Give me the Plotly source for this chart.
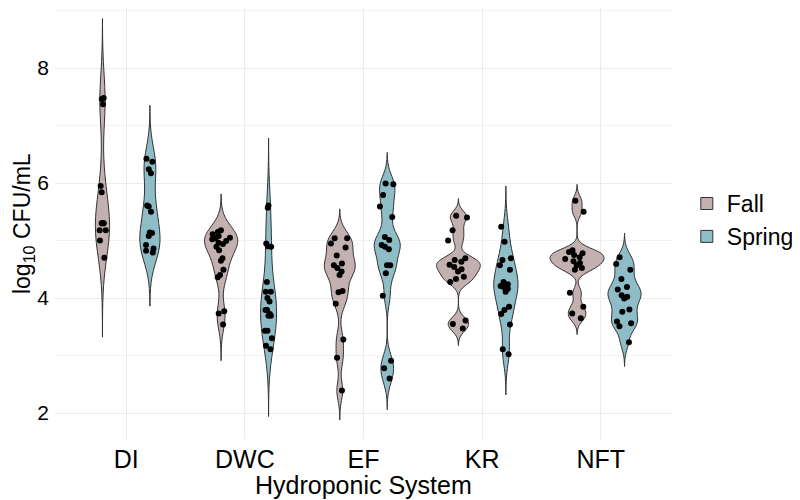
import plotly.graph_objects as go

systems = ["DI", "DWC", "EF", "KR", "NFT"]

# log10 CFU/mL
di_fall = [7.48, 7.46, 7.37, 5.95, 5.84, 5.30, 5.30, 5.30, 5.30, 5.18, 5.18, 5.00, 4.70]
di_spring = [6.42, 6.37, 6.24, 6.17, 5.61, 5.59, 5.50, 5.14, 5.13, 5.08, 4.92, 4.86, 4.82, 4.79]
dwc_fall = [5.18, 5.15, 5.11, 5.08, 5.05, 5.04, 5.02, 4.99, 4.96, 4.94, 4.89, 4.83,
            4.69, 4.65, 4.49, 4.40, 4.36, 3.77, 3.73, 3.54]
dwc_spring = [5.61, 5.57, 4.95, 4.90, 4.89, 4.28, 4.11, 4.11, 4.00, 3.94, 3.79, 3.79,
              3.72, 3.69, 3.69, 3.43, 3.43, 3.30, 3.17, 3.11]
ef_fall = [5.04, 5.04, 4.95, 4.88, 4.74, 4.60, 4.57, 4.52, 4.46, 4.40, 4.12, 4.10,
           3.90, 3.28, 2.96, 2.39]
ef_spring = [5.99, 5.98, 5.79, 5.59, 5.41, 5.06, 5.01, 4.92, 4.89, 4.85, 4.57, 4.57,
             4.43, 4.04, 2.91, 2.78, 2.60]
kr_fall = [5.43, 5.40, 5.18, 5.00, 4.69, 4.66, 4.63, 4.58, 4.54, 4.50, 4.46, 4.37,
           4.33, 4.28, 3.61, 3.55, 3.47]
kr_spring = [5.24, 4.98, 4.69, 4.66, 4.57, 4.49, 4.28, 4.24, 4.21, 4.19, 4.16, 4.11,
             3.85, 3.79, 3.72, 3.54, 3.11, 3.02]
nft_fall = [5.69, 5.50, 4.83, 4.80, 4.78, 4.75, 4.71, 4.68, 4.64, 4.61, 4.57, 4.52,
            4.49, 4.09, 3.85, 3.73, 3.65]
nft_spring = [4.71, 4.59, 4.49, 4.33, 4.19, 4.15, 4.05, 4.02, 3.99, 3.80, 3.76, 3.59,
              3.56, 3.51, 3.23]

# kernel bandwidths and max violin widths (x units), per system
fall_bw = [0.46, 0.21, 0.17, 0.10, 0.095]
spring_bw = [0.31, 0.39, 0.18, 0.235, 0.14]
fall_width = [0.12, 0.28, 0.26, 0.37, 0.455]
spring_width = [0.17, 0.135, 0.22, 0.205, 0.28]

seasons = {
    "Fall": ([di_fall, dwc_fall, ef_fall, kr_fall, nft_fall], fall_bw, fall_width, "#c3b0b1", -0.2),
    "Spring": ([di_spring, dwc_spring, ef_spring, kr_spring, nft_spring], spring_bw, spring_width, "#8ebdc7", 0.2),
}

fig = go.Figure()

for season, (series, bws, widths, color, offset) in seasons.items():
    for i, vals in enumerate(series):
        bw = bws[i]
        fig.add_trace(go.Violin(
            x=[i + offset] * len(vals),
            y=vals,
            name=season,
            legendgroup=season,
            showlegend=(i == 0),
            fillcolor=color,
            opacity=1,
            line=dict(color="#333333", width=1),
            bandwidth=bw,
            spanmode="manual",
            span=[min(vals) - 3 * bw, max(vals) + 3 * bw],
            scalemode="width",
            width=widths[i],
            points="all",
            pointpos=0,
            jitter=0.6,
            marker=dict(color="black", size=6, line=dict(width=0)),
            hoveron="violins+points",
        ))

font = "Liberation Sans, Arial, sans-serif"

fig.update_layout(
    width=800,
    height=500,
    margin=dict(l=47, r=136, t=0, b=69),
    plot_bgcolor="white",
    paper_bgcolor="white",
    violinmode="overlay",
    font=dict(family=font, size=21, color="black"),
    xaxis=dict(
        range=[-0.6, 4.6],
        tickvals=list(range(len(systems))),
        ticktext=systems,
        showgrid=True,
        gridcolor="#ebebeb",
        gridwidth=1,
        zeroline=False,
        showline=False,
        ticks="",
        ticklabelstandoff=3,
        tickfont=dict(size=25, color="black"),
        automargin=False,
    ),
    yaxis=dict(
        range=[1.548, 9.044],
        tick0=0,
        dtick=2,
        showgrid=True,
        gridcolor="#ebebeb",
        gridwidth=1,
        minor=dict(dtick=1, showgrid=True, gridcolor="#f2f2f2", gridwidth=1),
        zeroline=False,
        showline=False,
        ticks="",
        ticklabelstandoff=5,
        tickfont=dict(size=21, color="black"),
        automargin=False,
    ),
    legend=dict(
        x=1.024, y=0.508, xanchor="left", yanchor="middle",
        font=dict(size=23, color="black"),
        bgcolor="rgba(0,0,0,0)",
        tracegroupgap=0,
    ),
    annotations=[
        dict(text="Hydroponic System", xref="paper", yref="paper", x=0.5, y=-0.107,
             xanchor="center", yanchor="middle", showarrow=False,
             font=dict(size=25, color="black")),
        dict(text="log<sub>10</sub> CFU/mL", xref="paper", yref="paper", x=-0.051, y=0.5,
             xanchor="center", yanchor="middle", textangle=-90, showarrow=False,
             font=dict(size=23, color="black")),
    ],
)

fig.write_html("out.html")
